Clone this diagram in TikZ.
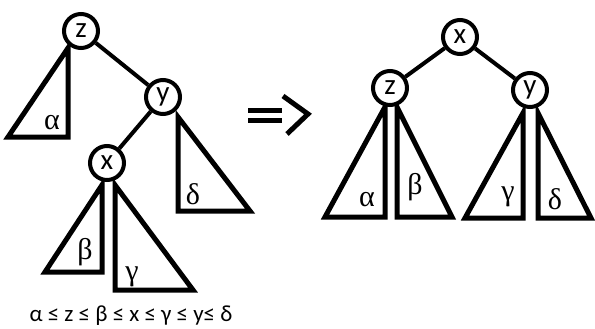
\documentclass[tikz,border=0pt]{standalone}
\usepackage{fontspec}
\setmainfont{Carlito}
\newfontfamily\grk{Liberation Serif}
\begin{document}
\begin{tikzpicture}[x=1pt,y=-1pt,
  tnode/.style={circle,draw,line width=4pt,fill=white,minimum size=34pt,inner sep=0pt,font=\fontsize{29}{29}\selectfont},
  edge/.style={line width=4pt},
  tri/.style={line width=5pt},
  glab/.style={font=\grk\fontsize{30}{30}\selectfont,inner sep=0pt}]
\useasboundingbox (0,0) rectangle (595,329);
% left tree triangles
\draw[tri] (68,48) -- (68,137) -- (8,137) -- cycle;
\draw[tri] (178,117) -- (178,211) -- (250,211) -- cycle;
\draw[tri] (102,185) -- (102,272) -- (45,272) -- cycle;
\draw[tri] (115,185) -- (115,290) -- (193,290) -- cycle;
% right tree triangles
\draw[tri] (385,107) -- (385,217) -- (325,217) -- cycle;
\draw[tri] (397,107) -- (397,217) -- (452,217) -- cycle;
\draw[tri] (523,113) -- (523,218) -- (465,218) -- cycle;
\draw[tri] (538,113) -- (538,218) -- (591,218) -- cycle;
% left tree nodes
\node[tnode] (lz) at (81,31) {z};
\node[tnode] (ly) at (163,97) {y};
\node[tnode] (lx) at (107,163) {x};
\draw[edge] (lz) -- (ly);
\draw[edge] (ly) -- (lx);
% right tree nodes
\node[tnode] (rx) at (460,37) {x};
\node[tnode] (rz) at (390,88) {z};
\node[tnode] (ry) at (530,90) {y};
\draw[edge] (rx) -- (rz);
\draw[edge] (rx) -- (ry);
% greek labels
\node[glab] at (52,123) {α};
\node[glab] at (193,194) {δ};
\node[glab] at (85,252) {β};
\node[glab] at (132,277) {γ};
\node[glab] at (367,200) {α};
\node[glab] at (415,187) {β};
\node[glab] at (508,197) {γ};
\node[glab] at (555,199) {δ};
% arrow =>
\draw[line width=5pt] (248,110.5) -- (282,110.5);
\draw[line width=5pt] (248,120.5) -- (282,120.5);
\draw[line width=5pt] (283,96) -- (308,114) -- (287,134);
% inequality
\node[font=\fontsize{23}{23}\selectfont] at (131,316) {α ≤ z ≤ β ≤ x ≤ γ ≤ y≤ δ};
\end{tikzpicture}
\end{document}
